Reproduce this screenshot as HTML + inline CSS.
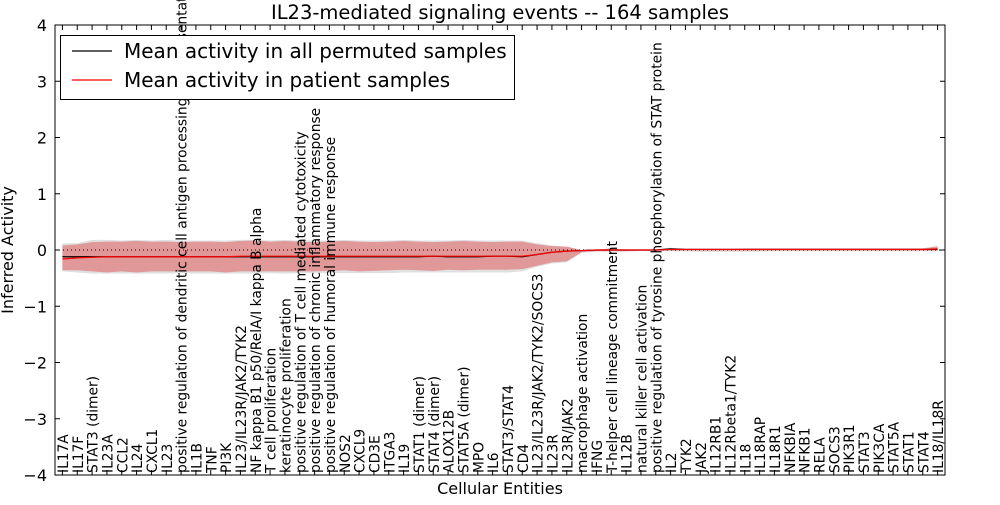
<!DOCTYPE html>
<html><head><meta charset="utf-8"><style>
body{margin:0;background:#fff;}
svg{font-family:"DejaVu Sans","Liberation Sans",sans-serif;}
</style></head><body>
<svg id="c" width="1000" height="500" xmlns="http://www.w3.org/2000/svg">
<rect x="0" y="0" width="1000" height="500" fill="#fff"/>
<g id="bands"></g><g id="lines"></g><g id="labels"></g><g id="axes"></g>
</svg>
<script>
const categories=["IL17A","IL17F","STAT3 (dimer)","IL23A","CCL2","IL24","CXCL1","IL23","positive regulation of dendritic cell antigen processing and presentation","IL1B","TNF","PI3K","IL23/IL23R/JAK2/TYK2","NF kappa B1 p50/RelA/I kappa B alpha","T cell proliferation","keratinocyte proliferation","positive regulation of T cell mediated cytotoxicity","positive regulation of chronic inflammatory response","positive regulation of humoral immune response","NOS2","CXCL9","CD3E","ITGA3","IL19","STAT1 (dimer)","STAT4 (dimer)","ALOX12B","STAT5A (dimer)","MPO","IL6","STAT3/STAT4","CD4","IL23/IL23R/JAK2/TYK2/SOCS3","IL23R","IL23R/JAK2","macrophage activation","IFNG","T-helper cell lineage commitment","IL12B","natural killer cell activation","positive regulation of tyrosine phosphorylation of STAT protein","IL2","TYK2","JAK2","IL12RB1","IL12Rbeta1/TYK2","IL18","IL18RAP","IL18R1","NFKBIA","NFKB1","RELA","SOCS3","PIK3R1","STAT3","PIK3CA","STAT5A","STAT1","STAT4","IL18/IL18R"];
const patientMean=[-0.16,-0.14,-0.13,-0.12,-0.12,-0.12,-0.12,-0.12,-0.12,-0.12,-0.12,-0.12,-0.11,-0.11,-0.11,-0.11,-0.11,-0.11,-0.11,-0.11,-0.11,-0.11,-0.11,-0.11,-0.11,-0.11,-0.11,-0.11,-0.11,-0.11,-0.11,-0.11,-0.08,-0.04,-0.02,-0.01,0.0,0.0,0.0,0.0,0.0,0.01,0.01,0.01,0.01,0.01,0.01,0.01,0.01,0.01,0.01,0.01,0.01,0.01,0.01,0.01,0.01,0.01,0.01,0.02];
const patientUpper=[0.08,0.1,0.14,0.15,0.15,0.16,0.15,0.15,0.14,0.15,0.15,0.14,0.16,0.17,0.15,0.16,0.15,0.14,0.15,0.16,0.15,0.14,0.15,0.16,0.15,0.14,0.15,0.16,0.15,0.14,0.15,0.15,0.1,0.07,0.06,0.0,0.0,0.03,0.0,0.0,0.0,0.03,0.02,0.02,0.02,0.02,0.03,0.03,0.03,0.03,0.03,0.03,0.03,0.03,0.03,0.03,0.03,0.03,0.03,0.07];
const patientLower=[-0.36,-0.36,-0.38,-0.4,-0.38,-0.4,-0.38,-0.38,-0.38,-0.38,-0.38,-0.4,-0.38,-0.38,-0.38,-0.38,-0.38,-0.38,-0.37,-0.36,-0.38,-0.37,-0.36,-0.35,-0.36,-0.37,-0.35,-0.36,-0.35,-0.35,-0.35,-0.34,-0.28,-0.22,-0.2,-0.04,-0.02,-0.02,-0.02,-0.01,-0.01,-0.01,-0.01,-0.01,-0.01,-0.01,-0.01,-0.01,-0.01,-0.01,-0.01,-0.01,-0.01,-0.01,-0.01,-0.01,-0.01,-0.01,-0.01,-0.01];
const permMean=[-0.12,-0.12,-0.12,-0.12,-0.12,-0.12,-0.12,-0.12,-0.12,-0.12,-0.12,-0.12,-0.12,-0.12,-0.12,-0.12,-0.12,-0.12,-0.12,-0.12,-0.12,-0.12,-0.12,-0.12,-0.12,-0.11,-0.12,-0.12,-0.12,-0.11,-0.11,-0.12,-0.08,-0.04,-0.02,-0.01,0.0,0.0,0.0,0.0,0.0,0.02,0.01,0.01,0.01,0.01,0.01,0.01,0.01,0.01,0.01,0.01,0.01,0.01,0.01,0.01,0.01,0.01,0.01,0.01];
const permUpper=[0.12,0.12,0.18,0.18,0.17,0.18,0.17,0.18,0.17,0.17,0.17,0.17,0.18,0.18,0.17,0.18,0.17,0.17,0.17,0.18,0.17,0.17,0.17,0.18,0.17,0.17,0.17,0.18,0.17,0.17,0.17,0.17,0.12,0.08,0.06,0.0,0.01,0.03,0.01,0.01,0.01,0.04,0.03,0.03,0.03,0.03,0.03,0.03,0.03,0.03,0.03,0.03,0.03,0.03,0.03,0.03,0.03,0.03,0.03,0.05];
const permLower=[-0.38,-0.4,-0.42,-0.42,-0.42,-0.42,-0.42,-0.42,-0.41,-0.42,-0.42,-0.42,-0.42,-0.42,-0.41,-0.42,-0.41,-0.41,-0.41,-0.41,-0.41,-0.41,-0.41,-0.4,-0.4,-0.4,-0.4,-0.4,-0.4,-0.4,-0.4,-0.38,-0.3,-0.24,-0.22,-0.05,-0.03,-0.03,-0.03,-0.02,-0.02,-0.02,-0.02,-0.03,-0.03,-0.03,-0.03,-0.03,-0.02,-0.02,-0.02,-0.02,-0.02,-0.02,-0.02,-0.02,-0.02,-0.02,-0.02,-0.02];
const yTicks=[-4,-3,-2,-1,0,1,2,3,4];
const L=55,R=945,T=25,B=475,NS="http://www.w3.org/2000/svg";
const xS=i=>L+(i+0.5)*(R-L)/categories.length;
const yS=v=>B-(v+4)/8*(B-T);
function mk(t,a,p){const e=document.createElementNS(NS,t);for(const k in a)e.setAttribute(k,a[k]);p.appendChild(e);return e;}
function band(up,lo,fill,op,name){let d="M"+up.map((v,i)=>xS(i)+","+yS(v)).join("L");for(let i=lo.length-1;i>=0;i--)d+="L"+xS(i)+","+yS(lo[i]);const e=mk("path",{d:d+"Z",fill:fill,"fill-opacity":op},document.getElementById("bands"));

}
band(permUpper,permLower,"#cccccc",0.6,"permuted-band");
band(patientUpper,patientLower,"#e05050",0.5,"patient-band");
const lg=document.getElementById("lines");
const zl=mk("line",{x1:L,x2:R,y1:yS(0),y2:yS(0),stroke:"#000","stroke-dasharray":"1,3","stroke-width":1},lg);


function line(vals,col,name){const e=mk("polyline",{points:vals.map((v,i)=>xS(i)+","+yS(v)).join(" "),fill:"none",stroke:col,"stroke-width":1.2},lg);

}
line(permMean,"#000","permuted-mean-line");
line(patientMean,"#ff0000","patient-mean-line");
const lb=document.getElementById("labels");
categories.forEach((c,i)=>{const x=xS(i)+5.5;const t=mk("text",{x:0,y:0,transform:`translate(${x},${B-2}) rotate(-90)`,"font-size":"13.8"},lb);t.textContent=c;

});
const ax=document.getElementById("axes");
const fr=mk("rect",{x:L,y:T,width:R-L,height:B-T,fill:"none",stroke:"#000","stroke-width":1},ax);


yTicks.forEach(v=>{const y=yS(v);mk("line",{x1:L,x2:L+5,y1:y,y2:y,stroke:"#000"},ax);mk("line",{x1:R-5,x2:R,y1:y,y2:y,stroke:"#000"},ax);
const t=mk("text",{x:L-8,y:y+6,"text-anchor":"end","font-size":"16"},ax);t.textContent=(v<0?"\u2212":"")+Math.abs(v);

});
categories.forEach((c,i)=>{mk("line",{x1:xS(i),x2:xS(i),y1:B,y2:B-5,stroke:"#000"},ax);mk("line",{x1:xS(i),x2:xS(i),y1:T,y2:T+5,stroke:"#000"},ax);});
</script>
<svg width="1000" height="500" style="position:absolute;left:0;top:0" xmlns="http://www.w3.org/2000/svg">
<text x="500" y="19" text-anchor="middle" font-size="19.5">IL23-mediated signaling events -- 164 samples</text>
<text x="500" y="494" text-anchor="middle" font-size="16">Cellular Entities</text>
<text transform="translate(13,250) rotate(-90)" text-anchor="middle" font-size="16">Inferred Activity</text>
<g>
<rect x="60.5" y="35.5" width="454" height="64" fill="#fff" stroke="#000"/>
<line x1="72" x2="112" y1="51" y2="51" stroke="#000" stroke-width="1.2"/>
<text x="124" y="58" font-size="20">Mean activity in all permuted samples</text>
<line x1="72" x2="112" y1="80" y2="80" stroke="#ff0000" stroke-width="1.2"/>
<text x="124" y="87" font-size="20">Mean activity in patient samples</text>
</g>
</svg>
</body></html>
